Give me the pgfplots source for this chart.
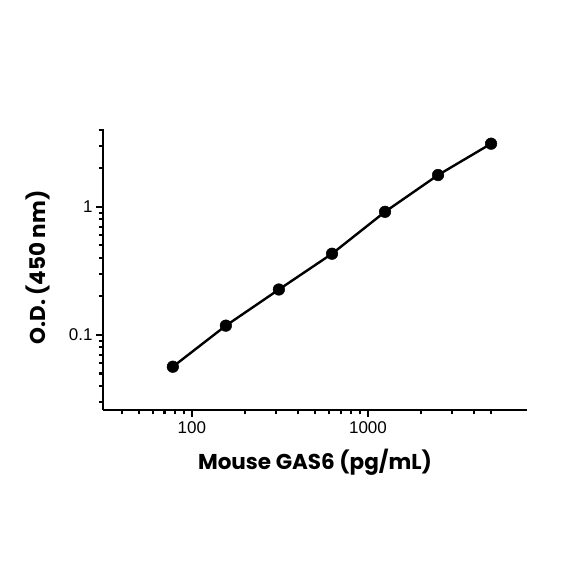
\documentclass[border=0pt]{standalone}
\usepackage{fontspec}
\setmainfont{Liberation Sans}
\newfontfamily\labfont{Poppins}
\usepackage{pgfplots}
\pgfplotsset{compat=1.18}

\begin{document}
\begin{tikzpicture}
\useasboundingbox (-103pt,-174pt) rectangle (481pt,410pt);
\begin{axis}[
    at={(0pt,0pt)}, anchor=south west,
    scale only axis, width=424pt, height=281pt,
    xmode=log, ymode=log,
    xmin=31.3, xmax=8000,
    ymin=0.0259, ymax=4.05,
    axis x line=bottom, axis y line=left,
    axis line style={-, line width=2.6pt},
    every tick/.style={black, line width=2.2pt},
    tick align=outside,
    major tick length=7pt, minor tick length=4.5pt,
    xtick={100,1000}, xticklabels={100,1000},
    minor xtick={40,50,60,70,80,90,200,300,400,500,600,700,800,900,2000,3000,4000,5000},
    ytick={0.1,1}, yticklabels={0.1,1},
    minor ytick={0.03,0.04,0.05,0.06,0.07,0.08,0.09,0.2,0.3,0.4,0.5,0.6,0.7,0.8,0.9,2,3,4},
    /pgf/number format/assume math mode=true,
    tick label style={font=\fontsize{17}{19}\selectfont},
    xticklabel style={yshift=-1pt},
    xlabel={Mouse GAS6 (pg/mL)},
    ylabel={O.D. (450 nm)},
    label style={font=\labfont\bfseries\fontsize{21.5}{24}\selectfont},
    xlabel style={at={(axis description cs:0.5,-0.185)}, anchor=center},
    ylabel style={at={(axis description cs:-0.153,0.507)}, anchor=center},
    clip=false,
]
\addplot[black, line width=2.4pt, mark=*, mark size=5.8pt,
    mark options={line width=0.5pt}] coordinates {
    (78,0.0564) (156,0.118) (312,0.226) (625,0.430) (1250,0.914) (2500,1.77) (5000,3.11)
};
\end{axis}
\end{tikzpicture}
\end{document}
